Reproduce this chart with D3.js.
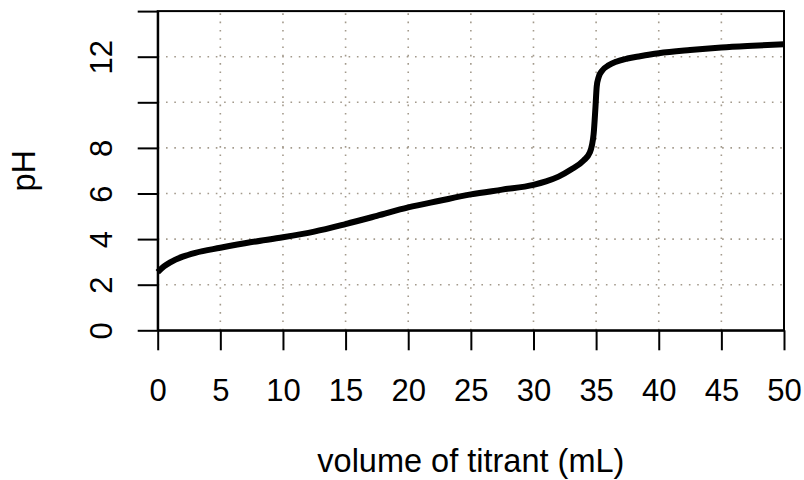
<!DOCTYPE html>
<html>
<head>
<meta charset="utf-8">
<script src="https://cdn.jsdelivr.net/npm/d3@7"></script>
<style>
  html, body { margin: 0; padding: 0; background: #ffffff; }
  svg { display: block; font-family: "Liberation Sans", Arial, Helvetica, sans-serif; }
</style>
</head>
<body>
<svg id="chart" width="804" height="480"></svg>
<script>
// ---- data ----
const volume = [0, 0.5, 1, 2, 3, 5, 7.5, 10, 12.5, 15, 17.5, 20, 22.5, 25, 27.5, 30, 31,
  32, 33, 34, 34.5, 34.8, 34.95, 35.05, 35.2, 35.5, 36, 36.6, 37.5, 38.5, 40, 42.5, 45, 47.5, 50];
const pH = [2.55, 2.8, 2.98, 3.23, 3.4, 3.62, 3.87, 4.08, 4.33, 4.66, 5.02, 5.39, 5.68, 5.96, 6.17, 6.38, 6.53,
  6.74, 7.05, 7.45, 7.8, 8.6, 9.8, 10.7, 11.1, 11.4, 11.62, 11.78, 11.92, 12.02, 12.15, 12.29, 12.4, 12.48, 12.55];
const xTicks = [0, 5, 10, 15, 20, 25, 30, 35, 40, 45, 50];
const yTicks = [0, 2, 4, 6, 8, 10, 12, 14];
const yTickLabels = ["0", "2", "4", "6", "8", "", "12", ""];
const xGrid = [5, 10, 15, 20, 25, 30, 35, 40, 45];
const yGrid = [2, 4, 6, 8, 10, 12];
const xTitle = "volume of titrant (mL)";
const yTitle = "pH";

// ---- layout ----
const pLeft = 157.7, pRight = 784, pTop = 11.1, pBottom = 330.3;
const svg = d3.select("#chart");
const x = d3.scaleLinear().domain([0, 50]).range([pLeft, pRight]);
const y = d3.scaleLinear().domain([0, 14]).range([pBottom, pTop]);

// grid
const gridColor = "#a39a8c";
svg.append("g").selectAll("line").data(xGrid).join("line")
  .attr("x1", d => x(d)).attr("x2", d => x(d))
  .attr("y1", pBottom).attr("y2", pTop)
  .attr("stroke", gridColor).attr("stroke-width", 1.6)
  .attr("stroke-dasharray", "1.6,6.7");
svg.append("g").selectAll("line").data(yGrid).join("line")
  .attr("x1", pLeft).attr("x2", pRight)
  .attr("y1", d => y(d)).attr("y2", d => y(d))
  .attr("stroke", gridColor).attr("stroke-width", 1.6)
  .attr("stroke-dasharray", "1.6,6.7");

// curve
const line = d3.line().x(d => x(d[0])).y(d => y(d[1])).curve(d3.curveMonotoneX);
svg.append("path")
  .datum(volume.map((v, i) => [v, pH[i]]))
  .attr("d", line)
  .attr("fill", "none").attr("stroke", "#000").attr("stroke-width", 6)
  .attr("stroke-linejoin", "round").attr("stroke-linecap", "butt");

// box
svg.append("rect")
  .attr("x", pLeft).attr("y", pTop).attr("width", pRight - pLeft).attr("height", pBottom - pTop)
  .attr("fill", "none").attr("stroke", "#000").attr("stroke-width", 2);

// x axis
const xAxis = svg.append("g").attr("transform", `translate(0,${pBottom})`)
  .call(d3.axisBottom(x).tickValues(xTicks).tickSize(20).tickSizeOuter(0).tickFormat(d3.format("d")));
xAxis.attr("font-family", null).attr("font-size", null);
xAxis.select(".domain").attr("stroke-width", 2);
xAxis.selectAll(".tick line").attr("stroke-width", 2);
xAxis.selectAll(".tick text").attr("y", 70.4).attr("dy", 0)
  .attr("font-size", 31).attr("fill", "#000");

// y axis
const yAxis = svg.append("g").attr("transform", `translate(${pLeft},0)`)
  .call(d3.axisLeft(y).tickValues(yTicks).tickSize(20).tickSizeOuter(0)
    .tickFormat((d, i) => yTickLabels[i]));
yAxis.attr("font-family", null).attr("font-size", null);
yAxis.select(".domain").attr("stroke-width", 2);
yAxis.selectAll(".tick line").attr("stroke-width", 2);
yAxis.selectAll(".tick text")
  .attr("x", 0).attr("dy", 0).attr("text-anchor", "middle")
  .attr("transform", "translate(-45.7,0) rotate(-90)")
  .attr("font-size", 31).attr("fill", "#000");

// titles
svg.append("text")
  .attr("x", (pLeft + pRight) / 2).attr("y", 472)
  .attr("text-anchor", "middle").attr("font-size", 32.5)
  .text(xTitle);
svg.append("text")
  .attr("transform", `translate(35,${(pTop + pBottom) / 2}) rotate(-90)`)
  .attr("text-anchor", "middle").attr("font-size", 32.5)
  .text(yTitle);
</script>
</body>
</html>
